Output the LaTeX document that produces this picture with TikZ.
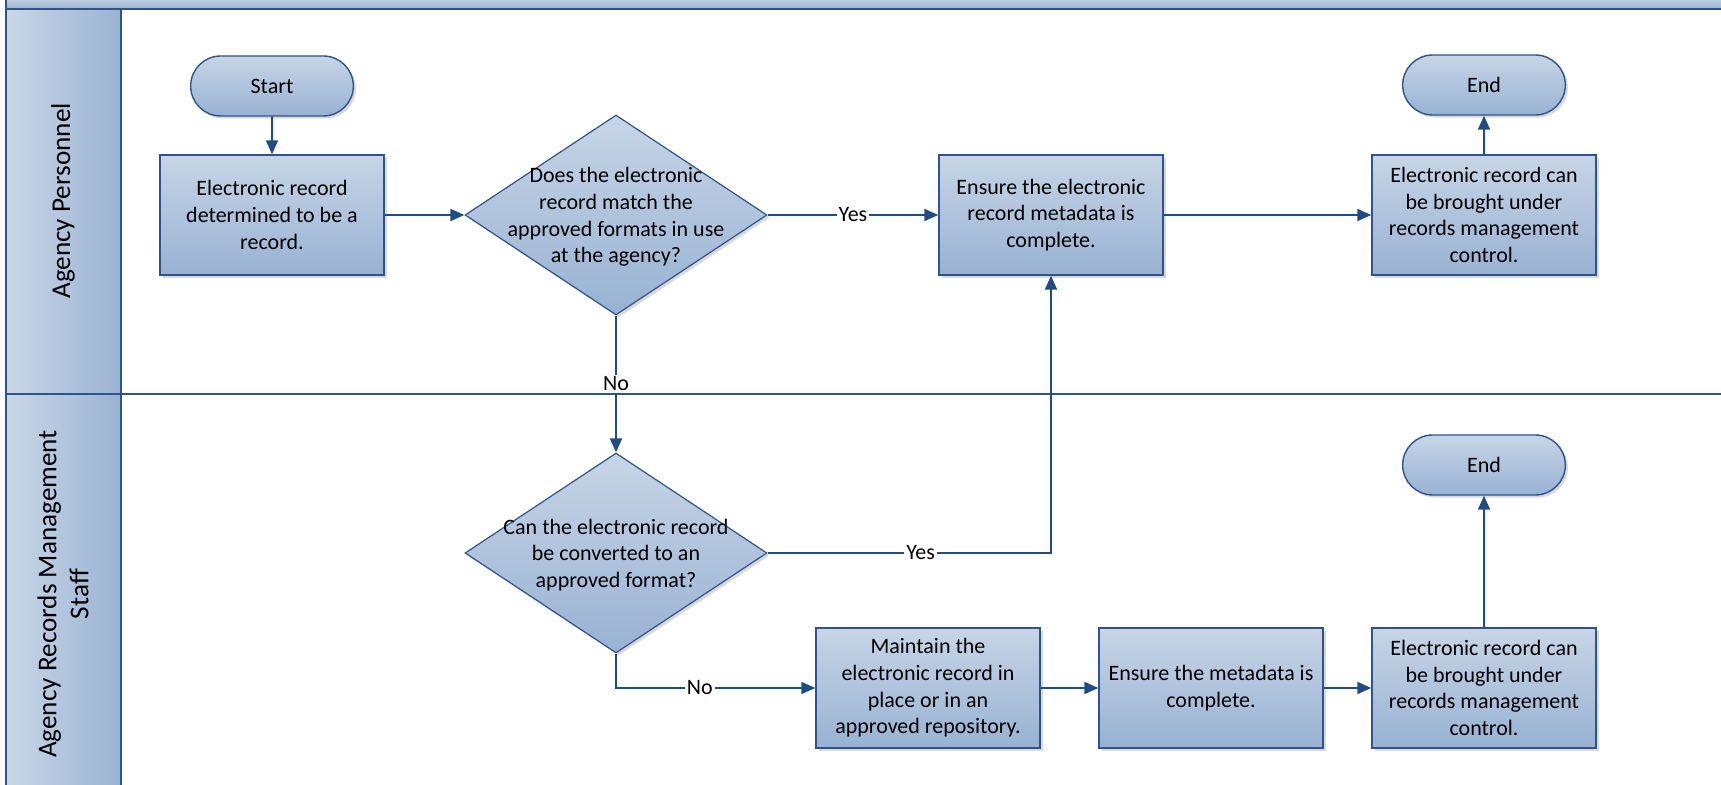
\documentclass[tikz,border=0pt]{standalone}
\usepackage{fontspec}
\setmainfont{Carlito}
\usetikzlibrary{arrows.meta,shapes.geometric,shapes.misc,shadows}
\definecolor{fillTop}{RGB}{199,213,230}
\definecolor{fillBot}{RGB}{152,178,211}
\definecolor{edgeC}{RGB}{47,84,140}
\definecolor{connC}{RGB}{32,76,132}
\definecolor{laneL}{RGB}{202,215,231}
\definecolor{laneR}{RGB}{154,179,211}
\tikzset{
  shd/.style={drop shadow={shadow xshift=1.3pt,shadow yshift=-1.3pt,opacity=0.3}},
  procbox/.style={rectangle,draw=edgeC,line width=0.7pt,top color=fillTop,bottom color=fillBot,
    minimum width=112pt,minimum height=60pt,align=center,inner sep=2pt,shd,
    font=\fontsize{11pt}{13.3pt}\selectfont},
  termbox/.style={rounded rectangle,draw=edgeC,line width=0.7pt,top color=fillTop,bottom color=fillBot,
    minimum width=88pt,minimum height=30pt,align=center,shd,
    font=\fontsize{11pt}{13.3pt}\selectfont},
  decbox/.style={diamond,draw=edgeC,line width=0.6pt,top color=fillTop,bottom color=fillBot,
    minimum width=151pt,minimum height=100pt,inner sep=0pt,shd},
  dectext/.style={align=center,inner sep=0pt,font=\fontsize{11pt}{13.3pt}\selectfont},
  conn/.style={draw=connC,line width=1pt,-{Triangle[length=7pt,width=6pt]}},
  lbl/.style={fill=white,inner sep=1pt,font=\fontsize{11pt}{13.3pt}\selectfont},
  lanetext/.style={rotate=90,align=center,font=\fontsize{13.6pt}{16pt}\selectfont},
}
\begin{document}
\begin{tikzpicture}[x=0.5pt,y=-0.5pt]
\useasboundingbox (0,0) rectangle (1721,785);
% pool header band
\fill[top color=laneL,bottom color=laneR] (6,-4) rectangle (1725,9);
% lane headers
\fill[left color=laneL,right color=laneR] (6,9) rectangle (121,790);
\draw[edgeC,line width=1pt] (6,-4) -- (6,790);
\draw[edgeC,line width=1pt] (6,9) -- (1725,9);
\draw[edgeC,line width=1pt] (121,9) -- (121,790);
\draw[edgeC,line width=1pt] (6,394) -- (1725,394);
\node[lanetext] (lane1) at (63,201) {Agency Personnel};
\node[lanetext] (lane2) at (63,594) {Agency Records Management\\Staff};

% nodes
\node[termbox] (start) at (272,86) {Start};
\node[procbox] (b1) at (272,215) {Electronic record\\determined to be a\\record.};
\node[decbox] (d1) at (616,215) {};
\node[dectext] (d1t) at (616,217) {Does the electronic\\record match the\\approved formats in use\\at the agency?};
\node[procbox] (e1) at (1051,215) {Ensure the electronic\\record metadata is\\complete.};
\node[procbox] (b3) at (1484,215) {Electronic record can\\be brought under\\records management\\control.};
\node[termbox] (end1) at (1484,85) {End};

\node[decbox] (d2) at (616,553) {};
\node[dectext] (d2t) at (616,555) {Can the electronic record\\be converted to an\\approved format?};
\node[procbox] (m) at (928,688) {Maintain the\\electronic record in\\place or in an\\approved repository.};
\node[procbox] (e2) at (1211,688) {Ensure the metadata is\\complete.};
\node[procbox] (b4) at (1484,688) {Electronic record can\\be brought under\\records management\\control.};
\node[termbox] (end2) at (1484,465) {End};

% connectors
\draw[conn] (start) -- (b1);
\draw[conn] (b1) -- (d1);
\draw[conn] (d1) -- node[lbl]{Yes} (e1);
\draw[conn] (e1) -- (b3);
\draw[conn] (b3) -- (end1);
\draw[conn] (d1) -- node[lbl]{No} (d2);
\draw[conn] (d2.east) -| node[lbl,pos=0.27]{Yes} (e1.south);
\draw[conn] (d2.south) |- node[lbl,pos=0.71]{No} (m.west);
\draw[conn] (m) -- (e2);
\draw[conn] (e2) -- (b4);
\draw[conn] (b4) -- (end2);
\end{tikzpicture}
\end{document}
